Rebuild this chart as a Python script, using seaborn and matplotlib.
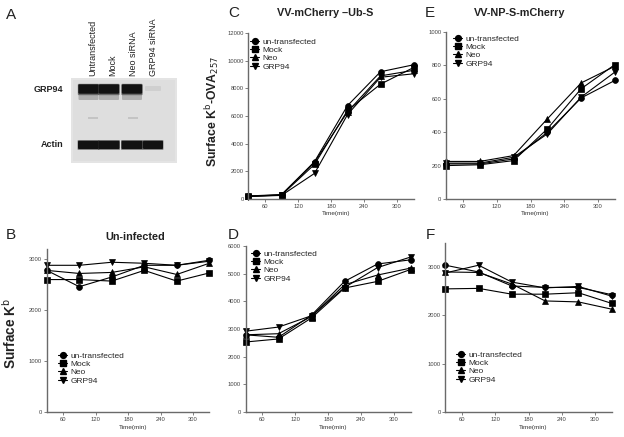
import numpy as np
import pandas as pd
import matplotlib
matplotlib.use("Agg")
import matplotlib.pyplot as plt
import seaborn as sns
from matplotlib.patches import FancyBboxPatch, Rectangle
from matplotlib.lines import Line2D

# ---------------- data ----------------
times = [30, 90, 150, 210, 270, 330]
groups = ["un-transfected", "Mock", "Neo", "GRP94"]
markers = ["o", "s", "^", "v"]
xticks = [60, 120, 180, 240, 300]

# B: Un-infected
b_untr = [2780, 2460, 2650, 2880, 2880, 2980]
b_mock = [2600, 2600, 2570, 2780, 2570, 2730]
b_neo = [2780, 2720, 2740, 2850, 2700, 2920]
b_grp = [2880, 2880, 2940, 2920, 2880, 2960]

# C: VV-mCherry -Ub-S
c_untr = [200, 300, 2700, 6750, 9200, 9700]
c_mock = [200, 280, 2500, 6400, 8300, 9500]
c_neo = [220, 320, 2650, 6300, 8900, 9300]
c_grp = [180, 260, 1850, 6100, 8800, 9050]

# D
d_untr = [2790, 2700, 3500, 4720, 5350, 5500]
d_mock = [2530, 2640, 3400, 4480, 4720, 5150]
d_neo = [2790, 2830, 3450, 4600, 4950, 5200]
d_grp = [2920, 3070, 3480, 4500, 5220, 5600]

# E: VV-NP-S-mCherry
e_untr = [210, 210, 240, 400, 605, 710]
e_mock = [200, 205, 230, 420, 660, 805]
e_neo = [225, 225, 260, 480, 695, 795]
e_grp = [215, 215, 250, 390, 610, 760]

# F
f_untr = [3040, 2900, 2610, 2580, 2580, 2430]
f_mock = [2550, 2560, 2440, 2440, 2470, 2250]
f_neo = [2900, 2890, 2650, 2300, 2280, 2130]
f_grp = [2880, 3040, 2690, 2570, 2600, 2400]

# Western blot (panel A)
lanes = ["Untransfected", "Mock", "Neo siRNA", "GRP94 siRNA"]
grp94_band = [1.0, 1.0, 1.0, 0.04]
actin_band = [1.0, 1.0, 1.0, 0.95]

# ---------------- figure ----------------
W, H = 624, 437
sns.set_theme(style="ticks")
plt.rcParams["font.family"] = ["Liberation Sans", "DejaVu Sans"]
fig = plt.figure(figsize=(W / 100, H / 100), dpi=100)
fig.patch.set_facecolor("white")


def rect(x0, x1, ytop, ybot):
    return [x0 / W, 1 - ybot / H, (x1 - x0) / W, (ybot - ytop) / H]


def ftext(x, y, s, **kw):
    fig.text(x / W, 1 - y / H, s, **kw)


AX_COL = "#6a6a6a"


def panel(series, x60, x300, y0, ytop_px, ymax, yticks, legend_xy, title=None,
          title_xy=None, letter=None, letter_xy=None, xlabel_y=None):
    k = (x300 - x60) / 240.0
    x30 = x60 - 30 * k
    x330 = x300 + 30 * k
    ax = fig.add_axes(rect(x30, x330, ytop_px, y0))
    rows = []
    for g, vals in zip(groups, series):
        for t, v in zip(times, vals):
            rows.append({"t": t, "v": v, "g": g})
    df = pd.DataFrame(rows)
    sns.lineplot(data=df, x="t", y="v", style="g", style_order=groups,
                 markers=markers, dashes=False, color="black", lw=0.8,
                 markersize=4.2, markeredgecolor="black", markeredgewidth=0.5,
                 ax=ax, legend=False)
    for ln in ax.lines:
        ln.set_clip_on(False)
    ax.set_xlim(30, 330)
    ax.set_ylim(0, ymax)
    ax.set_xticks(xticks)
    ax.set_yticks(yticks)
    ax.set_xlabel("")
    ax.set_ylabel("")
    ax.set_facecolor("none")
    sns.despine(ax=ax)
    for sp in ["left", "bottom"]:
        ax.spines[sp].set_color(AX_COL)
        ax.spines[sp].set_linewidth(1.0)
    ax.tick_params(axis="both", length=2, width=0.6, color=AX_COL,
                   labelsize=4.2, labelcolor="#444444", pad=1.5)
    handles = [Line2D([], [], color="black", lw=0.8, marker=m, markersize=4.2,
                      markeredgecolor="black") for m in markers]
    ax.legend(handles, groups, loc="upper left",
              bbox_to_anchor=(legend_xy[0] / W, 1 - legend_xy[1] / H),
              bbox_transform=fig.transFigure, frameon=False, fontsize=6,
              handlelength=1.1, handletextpad=0.4, labelspacing=0.05,
              borderpad=0, borderaxespad=0)
    if xlabel_y is not None:
        ftext((x30 + x330) / 2 + 5, xlabel_y, "Time(min)", fontsize=4.6,
              color="#333333", ha="center", va="center")
    if title:
        ftext(title_xy[0], title_xy[1], title, fontsize=7.8, fontweight="bold",
              ha="center", va="center", color="#222222")
    if letter:
        ftext(letter_xy[0], letter_xy[1], letter, fontsize=11, ha="center",
              va="center", color="#222222")
    return ax


# B
panel([b_untr, b_mock, b_neo, b_grp], 63, 193, 412, 249, 3200,
      [0, 1000, 2000, 3000], (58, 352), title="Un-infected",
      title_xy=(135, 237), letter="B", letter_xy=(11, 235), xlabel_y=428)
# C
panel([c_untr, c_mock, c_neo, c_grp], 265, 397, 199, 33, 12000,
      [0, 2000, 4000, 6000, 8000, 10000, 12000], (250, 38),
      title="VV-mCherry \u2013Ub-S", title_xy=(325, 13), letter="C",
      letter_xy=(234, 13), xlabel_y=214)
# D
panel([d_untr, d_mock, d_neo, d_grp], 262, 394, 412, 246, 6000,
      [0, 1000, 2000, 3000, 4000, 5000, 6000], (251, 250), letter="D",
      letter_xy=(233, 235), xlabel_y=428)
# E
panel([e_untr, e_mock, e_neo, e_grp], 463, 598, 199, 32, 1000,
      [0, 200, 400, 600, 800, 1000], (453, 35), title="VV-NP-S-mCherry",
      title_xy=(520, 13), letter="E", letter_xy=(430, 13), xlabel_y=214)
# F
panel([f_untr, f_mock, f_neo, f_grp], 462, 595, 412, 243, 3500,
      [0, 1000, 2000, 3000], (456, 351), letter="F", letter_xy=(430, 235),
      xlabel_y=428)

# y labels
ftext(10, 333, "Surface K$^{\\mathrm{b}}$", fontsize=9.8, fontweight="bold",
      rotation=90, ha="center", va="center", color="#222222")
ftext(212, 112, "Surface K$^{\\mathrm{b}}$-OVA$_{257}$", fontsize=8.8,
      fontweight="bold", rotation=90, ha="center", va="center", color="#222222")

# ---------------- panel A : blot ----------------
ftext(11, 15, "A", fontsize=11, ha="center", va="center", color="#222222")
bx = fig.add_axes(rect(71, 177, 78, 163))
bx.set_xlim(71, 177)
bx.set_ylim(163, 78)
bx.axis("off")
bx.add_patch(Rectangle((71, 78), 106, 85, facecolor="#e4e4e4", edgecolor="none"))
bx.add_patch(Rectangle((73, 80), 102, 81, facecolor="#dedede", edgecolor="none"))
lane_x = [88.5, 109, 132, 153]
for cx, gi, ai in zip(lane_x, grp94_band, actin_band):
    if gi > 0.1:
        # smear under band
        bx.add_patch(FancyBboxPatch((cx - 9, 92), 18, 7, boxstyle="round,pad=1",
                                    facecolor="#8a8a8a", edgecolor="none", alpha=0.55))
        bx.add_patch(FancyBboxPatch((cx - 9.5, 85), 19, 9, boxstyle="round,pad=1.2",
                                    facecolor="#3a3a3a", edgecolor="none", alpha=0.6))
        bx.add_patch(FancyBboxPatch((cx - 9, 85.5), 18, 7, boxstyle="round,pad=1.2",
                                    facecolor="#121212", edgecolor="none"))
    else:
        bx.add_patch(FancyBboxPatch((cx - 7, 87), 14, 3, boxstyle="round,pad=1",
                                    facecolor="#cfcfcf", edgecolor="none"))
    bx.add_patch(FancyBboxPatch((cx - 10 * ai, 141), 20 * ai, 8,
                                boxstyle="round,pad=1", facecolor="#3a3a3a",
                                edgecolor="none", alpha=0.55))
    bx.add_patch(FancyBboxPatch((cx - 9.5 * ai, 141.8), 19 * ai, 6.2,
                                boxstyle="round,pad=1", facecolor="#121212",
                                edgecolor="none"))
# faint lines
for cx in [93, 133]:
    bx.add_patch(Rectangle((cx - 5, 117), 10, 2, facecolor="#c4c4c4", edgecolor="none"))

lab_x = [93, 113, 133, 153]
for lx, name in zip(lab_x, lanes):
    ftext(lx, 76, name, fontsize=6.5, rotation=90, ha="center", va="bottom",
          color="#222222")
ftext(63, 89, "GRP94", fontsize=6.5, fontweight="bold", ha="right", va="center",
      color="#222222")
ftext(63, 145, "Actin", fontsize=6.5, fontweight="bold", ha="right", va="center",
      color="#222222")

fig.savefig("out.png", dpi=100)
